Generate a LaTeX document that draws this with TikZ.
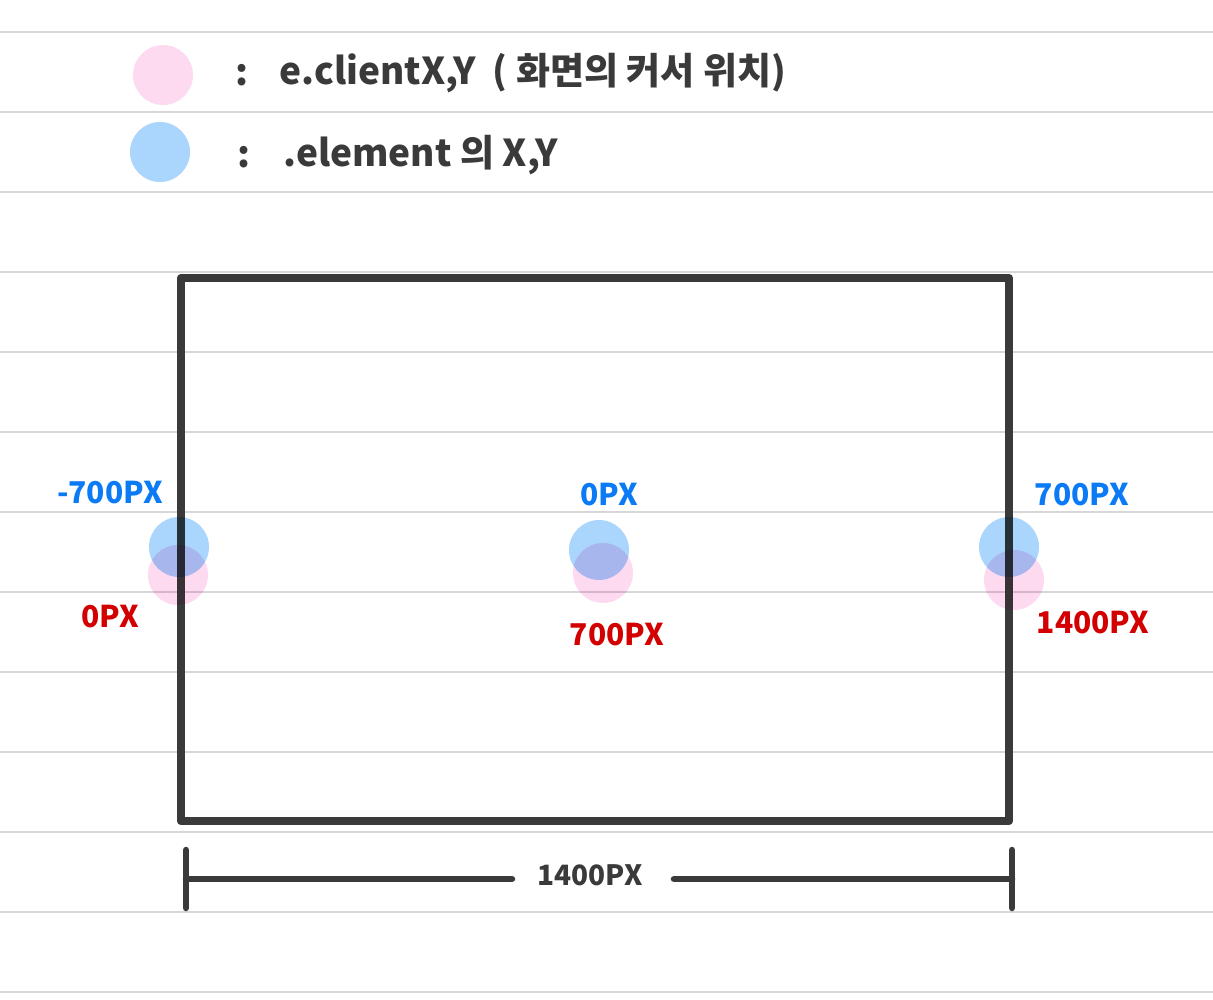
\documentclass[tikz,border=0pt]{standalone}
\usepackage{fontspec}
\setmainfont{Noto Sans CJK KR}
\usepackage{tikz}

\definecolor{ink}{RGB}{58,58,58}
\definecolor{rule}{RGB}{215,215,215}
\definecolor{pinkdot}{RGB}{253,218,240}
\definecolor{bluedot}{RGB}{170,213,253}
\definecolor{bluetxt}{RGB}{10,122,245}
\definecolor{redtxt}{RGB}{210,0,0}

\tikzset{
	dot/.style={circle,minimum size=60pt,inner sep=0pt},
	legend/.style={anchor=west,text=ink,font=\bfseries\fontsize{37}{40}\selectfont},
	bluelbl/.style={text=bluetxt,font=\bfseries\fontsize{30}{34}\selectfont},
	redlbl/.style={text=redtxt,font=\bfseries\fontsize{30}{34}\selectfont},
	heavy/.style={line width=8.5pt,ink,line cap=round,line join=round}
}

\begin{document}
\begin{tikzpicture}[x=1pt,y=-1pt]
	\useasboundingbox (0,0) rectangle (1213,1000);
	
	% Draw ruled lines
	\foreach \y in {32,112,...,992}
		\draw[rule,line width=2pt] (0,\y) -- (1213,\y);
	
	% Draw legend
	\node[dot,fill=pinkdot] (pinkkey) at (163,75) {};
	\node[dot,fill=bluedot] (bluekey) at (160,152) {};
	\node[legend] (colon1) at (232,75) {:};
	\node[legend] (colon2) at (234,157) {:};
	\node[legend] (clientlbl) at (276,73) {e.clientX,Y\ \ ( 화면의 커서 위치)};
	\node[legend] (elemlbl) at (280,155) {.element 의 X,Y};
	
	% Draw element box
	\coordinate (tl) at (181,278);
	\coordinate (br) at (1009,821);
	\draw[heavy] (tl) rectangle (br);
	
	% Draw cursor dots, element dots on top
	\begin{scope}[blend mode=multiply]
		\node[dot,fill=pinkdot] (pinkL) at (178,575) {};
		\node[dot,fill=pinkdot] (pinkM) at (603,573) {};
		\node[dot,fill=pinkdot] (pinkR) at (1014,580) {};
		\node[dot,fill=bluedot] (blueL) at (179,547) {};
		\node[dot,fill=bluedot] (blueM) at (599,550) {};
		\node[dot,fill=bluedot] (blueR) at (1009,547) {};
	\end{scope}
	
	% Draw labels
	\node[bluelbl] (elemL) at (110,493) {-700PX};
	\node[redlbl] (clientL) at (110,617) {0PX};
	\node[bluelbl] (elemM) at (609,495) {0PX};
	\node[redlbl] (clientM) at (617,635) {700PX};
	\node[bluelbl] (elemR) at (1082,495) {700PX};
	\node[redlbl] (clientR) at (1093,623) {1400PX};
	
	% Draw width of the box
	\coordinate (dimL) at (186,879);
	\coordinate (dimR) at (1012,879);
	\node[text=ink,font=\bfseries\fontsize{28}{32}\selectfont] (width) at (590,875) {1400PX};
	\draw[heavy,line width=6.5pt] ([yshift=-29pt]dimL) -- ([yshift=29pt]dimL);
	\draw[heavy,line width=6.5pt] ([yshift=-29pt]dimR) -- ([yshift=29pt]dimR);
	\draw[heavy,line width=6.5pt] (dimL) -- ([xshift=-22pt]width.west |- dimL);
	\draw[heavy,line width=6.5pt] ([xshift=28pt]width.east |- dimR) -- (dimR);
	
\end{tikzpicture}
\end{document}
